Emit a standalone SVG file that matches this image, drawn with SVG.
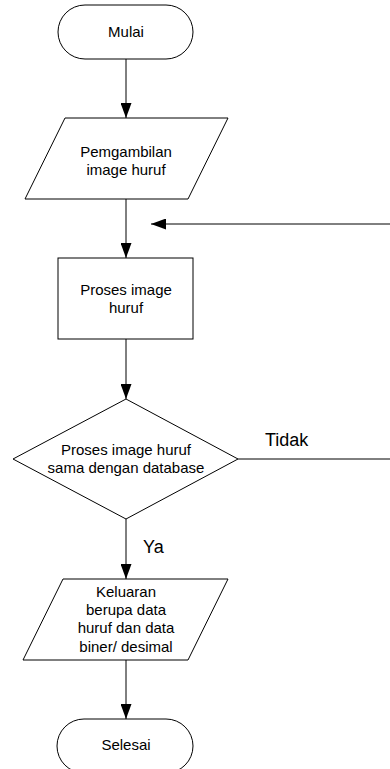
<svg xmlns="http://www.w3.org/2000/svg" width="390" height="769" viewBox="0 0 390 769">
<defs>
<style>
.s{fill:#fff;stroke:#000;stroke-width:1}
.c{fill:none;stroke:#000;stroke-width:1}
.t{font-family:"Liberation Sans",Arial,sans-serif;font-size:15px;fill:#000;text-anchor:middle}
.l{font-family:"Liberation Sans",Arial,sans-serif;font-size:18px;fill:#000}
</style>
<marker id="ah" viewBox="0 0 15 11" refX="15" refY="5.5" markerWidth="15" markerHeight="11" markerUnits="userSpaceOnUse" orient="auto">
<path d="M0,0 L15,5.5 L0,11 Z" fill="#000"/>
</marker>
</defs>
<rect width="390" height="769" fill="#fff"/>
<g id="connectors">
<line class="c" x1="126" y1="59" x2="126" y2="118" marker-end="url(#ah)"/>
<line class="c" x1="126" y1="199" x2="126" y2="258" marker-end="url(#ah)"/>
<line class="c" x1="391" y1="224" x2="151" y2="224" marker-end="url(#ah)"/>
<line class="c" x1="126" y1="339" x2="126" y2="399" marker-end="url(#ah)"/>
<line class="c" x1="238" y1="459" x2="391" y2="459"/>
<line class="c" x1="126" y1="519" x2="126" y2="579" marker-end="url(#ah)"/>
<line class="c" x1="126" y1="660" x2="126" y2="719" marker-end="url(#ah)"/>
<text class="l" x="265" y="446">Tidak</text>
<text class="l" x="143" y="553">Ya</text>
</g>
<g id="mulai">
<rect class="s" x="58" y="5" width="135" height="54" rx="27" ry="27"/>
<text class="t" x="126" y="37">Mulai</text>
</g>
<g id="pengambilan">
<polygon class="s" points="65,118 228,118 188,199 25,199"/>
<text class="t" x="126" y="157">Pemgambilan</text>
<text class="t" x="126" y="175">image huruf</text>
</g>
<g id="proses">
<rect class="s" x="58" y="258" width="135" height="81"/>
<text class="t" x="126" y="295">Proses image</text>
<text class="t" x="126" y="313">huruf</text>
</g>
<g id="keputusan">
<polygon class="s" points="126,399 238,459 126,519 13,459"/>
<text class="t" x="126" y="455">Proses image huruf</text>
<text class="t" x="126" y="473">sama dengan database</text>
</g>
<g id="keluaran">
<polygon class="s" points="63,579 228,579 188,660 23,660"/>
<text class="t" x="126" y="597">Keluaran</text>
<text class="t" x="126" y="615">berupa data</text>
<text class="t" x="126" y="633">huruf dan data</text>
<text class="t" x="126" y="652">biner/ desimal</text>
</g>
<g id="selesai">
<rect class="s" x="57" y="719" width="136" height="54" rx="27" ry="27"/>
<text class="t" x="126" y="750">Selesai</text>
</g>
</svg>
